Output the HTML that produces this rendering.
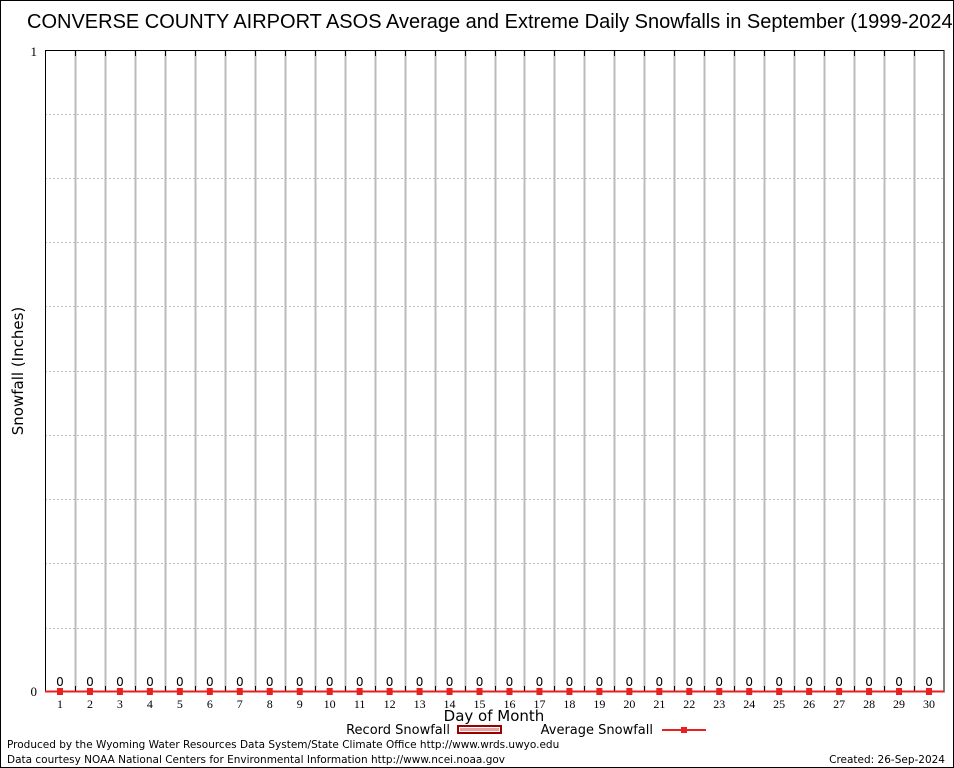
<!DOCTYPE html>
<html><head><style>body{margin:0;background:#fff}svg{display:block}</style></head><body>
<svg width="954" height="768" xmlns="http://www.w3.org/2000/svg">
<rect x="0.5" y="0.5" width="953" height="767" fill="#fff" stroke="#000"/>
<text x="27" y="28" font-family="Liberation Sans, sans-serif" font-size="20">CONVERSE COUNTY AIRPORT ASOS Average and Extreme Daily Snowfalls in September (1999-2024)</text>
<g stroke="#bbb" stroke-dasharray="2,2" stroke-width="1">
<line x1="45" x2="944" y1="114.5" y2="114.5"/><line x1="45" x2="944" y1="178.5" y2="178.5"/><line x1="45" x2="944" y1="242.5" y2="242.5"/><line x1="45" x2="944" y1="306.5" y2="306.5"/><line x1="45" x2="944" y1="371.5" y2="371.5"/><line x1="45" x2="944" y1="435.5" y2="435.5"/><line x1="45" x2="944" y1="499.5" y2="499.5"/><line x1="45" x2="944" y1="563.5" y2="563.5"/><line x1="45" x2="944" y1="628.5" y2="628.5"/>
</g>
<g id="v"></g>
<rect x="45.5" y="50.5" width="898.5" height="641.5" fill="none" stroke="#000"/>
<text x="37" y="56" font-family="Liberation Serif, serif" font-size="13" text-anchor="end">1</text>
<text x="37" y="696" font-family="Liberation Serif, serif" font-size="13" text-anchor="end">0</text>
<text transform="translate(23,371) rotate(-90)" font-family="DejaVu Sans, sans-serif" font-size="15" text-anchor="middle">Snowfall (Inches)</text>
<line x1="45" x2="944" y1="691.5" y2="691.5" stroke="#e82020" stroke-width="2"/>
<g id="d" font-family="DejaVu Sans, sans-serif" font-size="12" text-anchor="middle"></g>
<g id="t" font-family="Liberation Serif, serif" font-size="12" text-anchor="middle"></g>
<text x="494" y="721" font-family="DejaVu Sans, sans-serif" font-size="15" text-anchor="middle">Day of Month</text>
<text x="450" y="734" font-family="DejaVu Sans, sans-serif" font-size="13" text-anchor="end">Record Snowfall</text>
<rect x="458" y="726" width="43" height="7" fill="#fff" stroke="#900" stroke-width="2"/>
<rect x="460" y="728" width="39" height="3" fill="#e8a0a0"/>
<text x="653" y="734" font-family="DejaVu Sans, sans-serif" font-size="13" text-anchor="end">Average Snowfall</text>
<line x1="662" x2="706" y1="730" y2="730" stroke="#e82020" stroke-width="2"/>
<rect x="681" y="727" width="6" height="6" fill="#e82020"/>
<text x="7" y="748" font-family="DejaVu Sans, sans-serif" font-size="10.5">Produced by the Wyoming Water Resources Data System/State Climate Office http://www.wrds.uwyo.edu</text>
<text x="7" y="763" font-family="DejaVu Sans, sans-serif" font-size="10.5">Data courtesy NOAA National Centers for Environmental Information http://www.ncei.noaa.gov</text>
<text x="945" y="763" font-family="DejaVu Sans, sans-serif" font-size="10.5" text-anchor="end">Created:  26-Sep-2024</text>
</svg>
<script>
var ns="http://www.w3.org/2000/svg",v=document.getElementById('v'),d=document.getElementById('d'),t=document.getElementById('t'),w=899/30;
function el(p,n,a,tx){var e=document.createElementNS(ns,n);for(var k in a)e.setAttribute(k,a[k]);if(tx!=null)e.textContent=tx;p.appendChild(e);}
for(var k=1;k<30;k++){var x=Math.round(45+w*k)+0.5;el(v,'line',{x1:x,x2:x,y1:50,y2:692,stroke:'#bbb','stroke-width':2});el(v,'line',{x1:x,x2:x,y1:50,y2:56,stroke:'#000'});el(v,'line',{x1:x,x2:x,y1:686,y2:692,stroke:'#000'});}
for(var i=1;i<=30;i++){var x=45+w*(i-0.5);el(d,'text',{x:x,y:686},'0');el(t,'text',{x:x,y:708},String(i));el(d,'rect',{x:x-3,y:688,width:6,height:7,fill:'#e82020'});}
</script>
</body></html>
